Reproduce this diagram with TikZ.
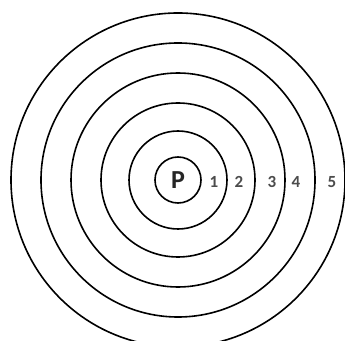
\documentclass[tikz,border=0pt]{standalone}
\usepackage{fontspec}
\setmainfont{Carlito}
\begin{document}
\begin{tikzpicture}[x=1pt,y=1pt,
  ring/.style={circle, draw=black, line width=1.6pt, inner sep=0pt},
  num/.style={text=black!70, font=\bfseries\fontsize{17}{17}\selectfont, inner sep=0pt}]
\useasboundingbox (0,0) rectangle (345,340);
\fill[white] (0,0) rectangle (345,340);
\coordinate (O) at (178,160);
\node[ring, minimum size=334pt] (r5) at (O) {};
\node[ring, minimum size=274pt] (r4) at (O) {};
\node[ring, minimum size=214pt] (r3) at (O) {};
\node[ring, minimum size=154pt] (r2) at (O) {};
\node[ring, minimum size=98pt] (r1) at (O) {};
\node[ring, minimum size=46pt, text=black!85, font=\bfseries\fontsize{26}{26}\selectfont] (p) at (O) {P};
\node[num] (n1) at (214,158) {1};
\node[num] (n2) at (239,158) {2};
\node[num] (n3) at (272,158) {3};
\node[num] (n4) at (296,158) {4};
\node[num] (n5) at (332,158) {5};
\end{tikzpicture}
\end{document}
